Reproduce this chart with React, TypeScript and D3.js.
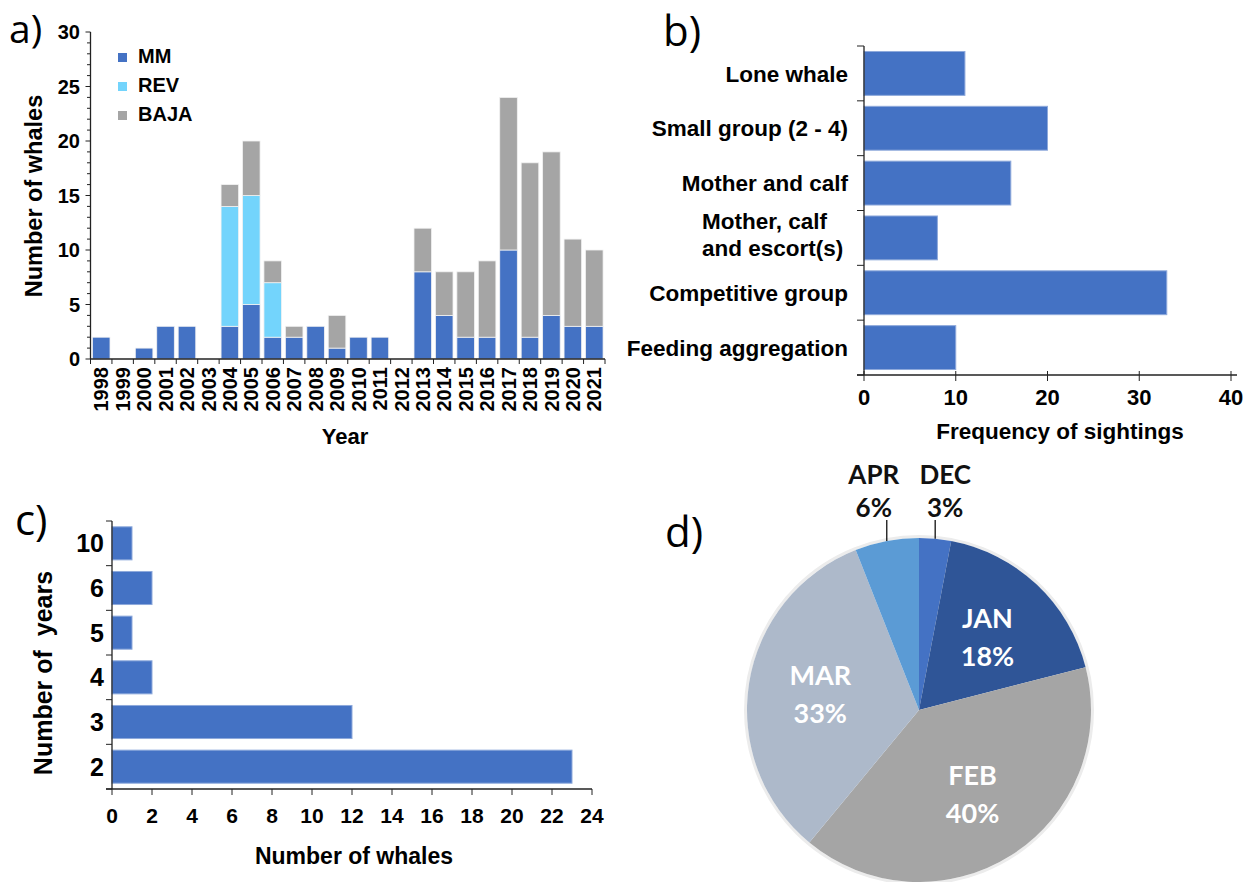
import React from 'react';
import * as d3 from 'd3';

// a) whales per year by region
const years = ['1998', '1999', '2000', '2001', '2002', '2003', '2004', '2005', '2006', '2007', '2008', '2009',
  '2010', '2011', '2012', '2013', '2014', '2015', '2016', '2017', '2018', '2019', '2020', '2021'];
const mmCounts = [2, 0, 1, 3, 3, 0, 3, 5, 2, 2, 3, 1, 2, 2, 0, 8, 4, 2, 2, 10, 2, 4, 3, 3];
const revCounts = [0, 0, 0, 0, 0, 0, 11, 10, 5, 0, 0, 0, 0, 0, 0, 0, 0, 0, 0, 0, 0, 0, 0, 0];
const bajaCounts = [0, 0, 0, 0, 0, 0, 2, 5, 2, 1, 0, 3, 0, 0, 0, 4, 4, 6, 7, 14, 16, 15, 8, 7];
const regions = ['MM', 'REV', 'BAJA'];
const regionColors = ['#4472C4', '#73D4FC', '#A5A5A5'];

// b) group types
const groupTypes = ['Lone whale', 'Small group (2 - 4)', 'Mother and calf', 'Mother, calf|and escort(s)',
  'Competitive group', 'Feeding aggregation'];
const sightings = [11, 20, 16, 8, 33, 10];

// c) resighting years
const yearsSeen = ['10', '6', '5', '4', '3', '2'];
const whaleCounts = [1, 2, 1, 2, 12, 23];

// d) months
const months = ['DEC', 'JAN', 'FEB', 'MAR', 'APR'];
const monthShares = [3, 18, 40, 33, 6];
const monthColors = ['#4472C4', '#2F5597', '#A5A5A5', '#ADB9CA', '#5B9BD5'];
const outsideMonths = ['DEC', 'APR'];

const ARIAL = '"Liberation Sans", Arial, sans-serif';
const CALIBRI = 'Lato, "Open Sans", sans-serif';
const LETTER = '"Open Sans", sans-serif';
const BLUE = '#4472C4';

function PanelA() {
  const x = d3.scaleBand().domain(years).range([90.5, 605]).paddingInner(0.18).paddingOuter(0.09);
  const y = d3.scaleLinear().domain([0, 30]).range([359, 32]);
  const rows = years.map((yr, i) => ({ year: yr, MM: mmCounts[i], REV: revCounts[i], BAJA: bajaCounts[i] }));
  const stacked = d3.stack<any>().keys(regions)(rows);
  const half = (x.step() - x.bandwidth()) / 2;
  const bounds = years.map((yr) => (x(yr) as number) - half).concat([605]);

  return (
    <g fontFamily={ARIAL} fontWeight="bold">
      <text x={9} y={43} fontSize={39} fontWeight="normal" fontFamily={LETTER}>a)</text>
      {stacked.map((layer, li) => (
        <g key={regions[li]} fill={regionColors[li]}>
          {layer.filter((d) => d[1] > d[0]).map((d) => (
            <rect key={d.data.year} x={x(d.data.year)} width={x.bandwidth()}
              y={y(d[1])} height={y(d[0]) - y(d[1])} stroke="#f2f2f2" strokeWidth={0.8} />
          ))}
        </g>
      ))}
      <line x1={90.5} x2={90.5} y1={32} y2={359} stroke="#222" strokeWidth={1.3} />
      <line x1={90.5} x2={605} y1={359} y2={359} stroke="#222" strokeWidth={1.3} />
      {d3.range(0, 31).map((v) => (
        <line key={v} x1={v % 5 === 0 ? 85.5 : 87} x2={90.5} y1={y(v)} y2={y(v)} stroke="#222" strokeWidth={1} />
      ))}
      {y.ticks(6).map((v) => (
        <text key={v} x={80} y={y(v)} dy="0.36em" textAnchor="end" fontSize={20}>{v}</text>
      ))}
      {bounds.map((b, i) => (
        <line key={i} x1={b} x2={b} y1={359} y2={364} stroke="#222" strokeWidth={1} />
      ))}
      {years.map((yr) => {
        const cx = (x(yr) as number) + x.bandwidth() / 2;
        return (
          <text key={yr} transform={`translate(${cx},367) rotate(-90)`} dy="0.36em" textAnchor="end" fontSize={20}>{yr}</text>
        );
      })}
      <text x={345} y={444} textAnchor="middle" fontSize={22}>Year</text>
      <text transform="translate(34,196) rotate(-90)" dy="0.36em" textAnchor="middle" fontSize={23.5}>Number of whales</text>
      {regions.map((r, i) => (
        <g key={r} transform={`translate(118,${53 + i * 29})`}>
          <rect width={9} height={9} fill={regionColors[i]} />
          <text x={20} y={9.5} fontSize={20}>{r}</text>
        </g>
      ))}
    </g>
  );
}

function PanelB() {
  const x = d3.scaleLinear().domain([0, 40]).range([864, 1231]);
  const y = d3.scaleBand().domain(groupTypes).range([46, 375]).paddingInner(0.2).paddingOuter(0.1);
  const step = y.step();

  return (
    <g fontFamily={ARIAL} fontWeight="bold">
      <text x={663} y={46} fontSize={42} fontWeight="normal" fontFamily={LETTER}>b)</text>
      {groupTypes.map((g, i) => (
        <rect key={g} x={x(0)} y={y(g)} width={x(sightings[i]) - x(0)} height={y.bandwidth()}
          fill={BLUE} stroke="#8EA9DB" strokeWidth={1} />
      ))}
      <line x1={864} x2={864} y1={46} y2={375} stroke="#222" strokeWidth={1.3} />
      <line x1={857} x2={1237} y1={375} y2={375} stroke="#222" strokeWidth={1.3} />
      {d3.range(0, 7).map((i) => (
        <line key={i} x1={857} x2={864} y1={46 + i * step} y2={46 + i * step} stroke="#222" strokeWidth={1} />
      ))}
      {x.ticks(4).map((v) => (
        <g key={v}>
          <line x1={x(v)} x2={x(v)} y1={371} y2={381} stroke="#222" strokeWidth={1} />
          <text x={x(v)} y={405} textAnchor="middle" fontSize={22}>{v}</text>
        </g>
      ))}
      {groupTypes.map((g) => {
        const cy = (y(g) as number) + y.bandwidth() / 2;
        const lines = g.split('|');
        if (lines.length === 1) {
          return <text key={g} x={848} y={cy} dy="0.36em" textAnchor="end" fontSize={22.5}>{g}</text>;
        }
        return (
          <text key={g} x={702} y={cy - 3} fontSize={22.5}>
            {lines.map((l, k) => (
              <tspan key={k} x={702} dy={k === 0 ? '-0.25em' : '1.2em'}>{l}</tspan>
            ))}
          </text>
        );
      })}
      <text x={1060} y={439} textAnchor="middle" fontSize={22.5}>Frequency of sightings</text>
    </g>
  );
}

function PanelC() {
  const x = d3.scaleLinear().domain([0, 24]).range([112, 592]);
  const y = d3.scaleBand().domain(yearsSeen).range([521, 789]).paddingInner(0.26).paddingOuter(0.13);
  const step = y.step();

  return (
    <g fontFamily={ARIAL} fontWeight="bold">
      <text x={15} y={535} fontSize={42} fontWeight="normal" fontFamily={LETTER}>c)</text>
      {yearsSeen.map((k, i) => (
        <rect key={k} x={x(0)} y={y(k)} width={x(whaleCounts[i]) - x(0)} height={y.bandwidth()}
          fill={BLUE} stroke="#8EA9DB" strokeWidth={1} />
      ))}
      <line x1={112} x2={112} y1={521} y2={789} stroke="#222" strokeWidth={1.3} />
      <line x1={106} x2={592} y1={789} y2={789} stroke="#222" strokeWidth={1.3} />
      {d3.range(0, 7).map((i) => (
        <line key={i} x1={106} x2={112} y1={521 + i * step} y2={521 + i * step} stroke="#222" strokeWidth={1} />
      ))}
      {yearsSeen.map((k) => (
        <text key={k} x={104} y={(y(k) as number) + y.bandwidth() / 2} dy="0.36em" textAnchor="end" fontSize={25}>{k}</text>
      ))}
      {x.ticks(12).map((v) => (
        <g key={v}>
          <line x1={x(v)} x2={x(v)} y1={789} y2={795} stroke="#222" strokeWidth={1} />
          <text x={x(v)} y={823} textAnchor="middle" fontSize={21}>{v}</text>
        </g>
      ))}
      <text x={354} y={864} textAnchor="middle" fontSize={23}>Number of whales</text>
      <text transform="translate(43,673) rotate(-90)" dy="0.36em" textAnchor="middle" fontSize={25}
        style={{ whiteSpace: 'pre' }}>{'Number of  years'}</text>
    </g>
  );
}

function PanelD() {
  const cx = 919;
  const cy = 710;
  const r = 172;
  const arcs = d3.pie<number>().sort(null).value((d) => d)(monthShares);
  const arc = d3.arc<d3.PieArcDatum<number>>().innerRadius(0).outerRadius(r);
  const labelArc = d3.arc<d3.PieArcDatum<number>>().innerRadius(100).outerRadius(100);

  return (
    <g fontFamily={CALIBRI} fontWeight="bold">
      <text x={665} y={547} fontSize={42} fontWeight="normal" fontFamily={LETTER}>d)</text>
      <g transform={`translate(${cx},${cy})`}>
        <circle r={r + 1.5} fill="none" stroke="#ececec" strokeWidth={3} />
        {arcs.map((a, i) => (
          <path key={months[i]} d={arc(a) as string} fill={monthColors[i]} />
        ))}
        {arcs.map((a, i) => {
          if (outsideMonths.includes(months[i])) {
            const mid = (a.startAngle + a.endAngle) / 2;
            const lx = r * Math.sin(mid);
            const ly = -r * Math.cos(mid);
            const tx = lx + (lx < 0 ? -13 : 10);
            return (
              <g key={months[i]}>
                <line x1={lx} x2={lx} y1={ly} y2={520 - cy} stroke="#111" strokeWidth={1.3} />
                <text x={tx} y={484 - cy} textAnchor="middle" fontSize={26} fill="#111">{months[i]}</text>
                <text x={tx} y={517 - cy} textAnchor="middle" fontSize={26} fill="#111">{monthShares[i]}%</text>
              </g>
            );
          }
          const [px, py] = labelArc.centroid(a);
          return (
            <g key={months[i]} fill="#fff" fontSize={27} textAnchor="middle">
              <text x={px} y={py - 19} dy="0.36em">{months[i]}</text>
              <text x={px} y={py + 19} dy="0.36em">{monthShares[i]}%</text>
            </g>
          );
        })}
      </g>
    </g>
  );
}

export default function App() {
  return (
    <svg width={1254} height={882} style={{ position: 'absolute', left: 0, top: 0, background: '#fff' }}>
      <rect width={1254} height={882} fill="#fff" />
      <PanelA />
      <PanelB />
      <PanelC />
      <PanelD />
    </svg>
  );
}
